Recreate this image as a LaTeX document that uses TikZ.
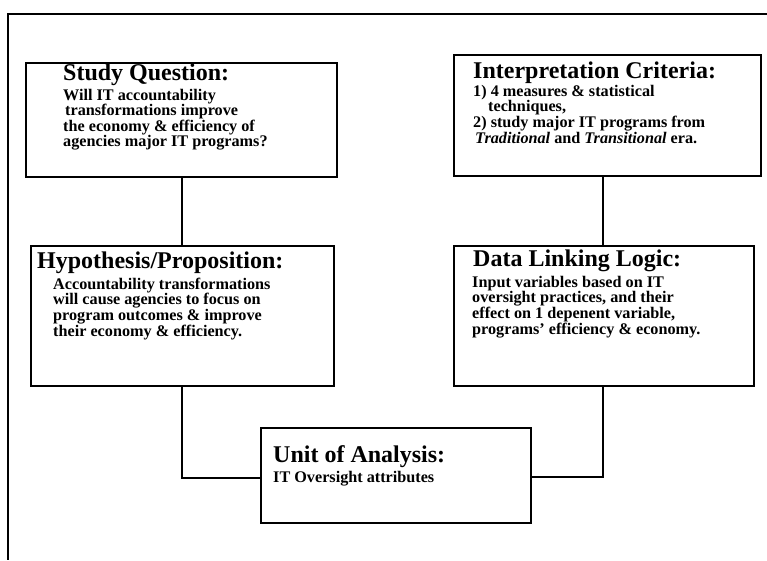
\documentclass[tikz,border=0pt]{standalone}
\usepackage{fontspec}
\setmainfont{Liberation Serif}
\newcommand{\lines}[1]{\begin{tabular}[t]{@{}l@{}}#1\end{tabular}}
\begin{document}
\begin{tikzpicture}[x=1pt,y=-1pt,
  frame/.style={line width=2pt},
  box/.style={draw,line width=2.2pt,rectangle,anchor=north west,inner sep=0pt},
  link/.style={line width=1.8pt},
  head/.style={anchor=base west,inner sep=0pt,text depth=0pt,font=\bfseries\fontsize{24}{26}\selectfont},
  body/.style={anchor=base west,inner sep=0pt,font=\bfseries\fontsize{16.2}{#1}\selectfont},
  body/.default=15]
\useasboundingbox (0,0) rectangle (767,560);
% page frame: top and left rules only
\draw[frame] (767,14) -- (8,14) -- (8,560);

% boxes
\node[box,minimum width=311pt,minimum height=114pt] (sq) at (25,62) {};
\node[box,minimum width=307pt,minimum height=121pt] (ic) at (453,54) {};
\node[box,minimum width=303pt,minimum height=140pt] (hp) at (30,245) {};
\node[box,minimum width=300pt,minimum height=140pt] (dl) at (453,245) {};
\node[box,minimum width=270pt,minimum height=95pt] (ua) at (260,427) {};

% texts
\node[head] (sqh) at (63,80) {Study Question:};
\node[body=14] (sqb) at (63,100) {\lines{Will IT accountability\\
\hspace{2pt}transformations improve\\
the economy \& efficiency of\\
agencies major IT programs?}};

\node[head] (ich) at (473,78) {Interpretation Criteria:};
\node[body=15.2] (icb) at (473,96) {\lines{1) 4 measures \& statistical\\
\hspace{15pt}techniques,\\
2) study major IT programs from\\
\hspace{2pt}\textit{Traditional} and \textit{Transitional} era.}};

\node[head] (hph) at (37,268) {Hypothesis/Proposition:};
\node[body=15] (hpb) at (53,289) {\lines{Accountability transformations\\
will cause agencies to focus on\\
program outcomes \& improve\\
their economy \& efficiency.}};

\node[head] (dlh) at (473,266) {Data Linking Logic:};
\node[body=15] (dlb) at (472,287) {\lines{Input variables based on IT\\
oversight practices, and their\\
effect on 1 depenent variable,\\
programs' efficiency \& economy.}};

\node[head] (uah) at (273,462) {Unit of Analysis:};
\node[body] (uab) at (273,482) {IT Oversight attributes};

% connectors
\draw[link] (sq.south -| 182,0) -- (hp.north -| 182,0);
\draw[link] (ic.south -| 603,0) -- (dl.north -| 603,0);
\draw[link] (hp.south -| 182,0) -- (182,478) -- (ua.west |- 0,478);
\draw[link] (ua.east |- 0,477) -- (603,477) -- (dl.south -| 603,0);
\end{tikzpicture}
\end{document}
